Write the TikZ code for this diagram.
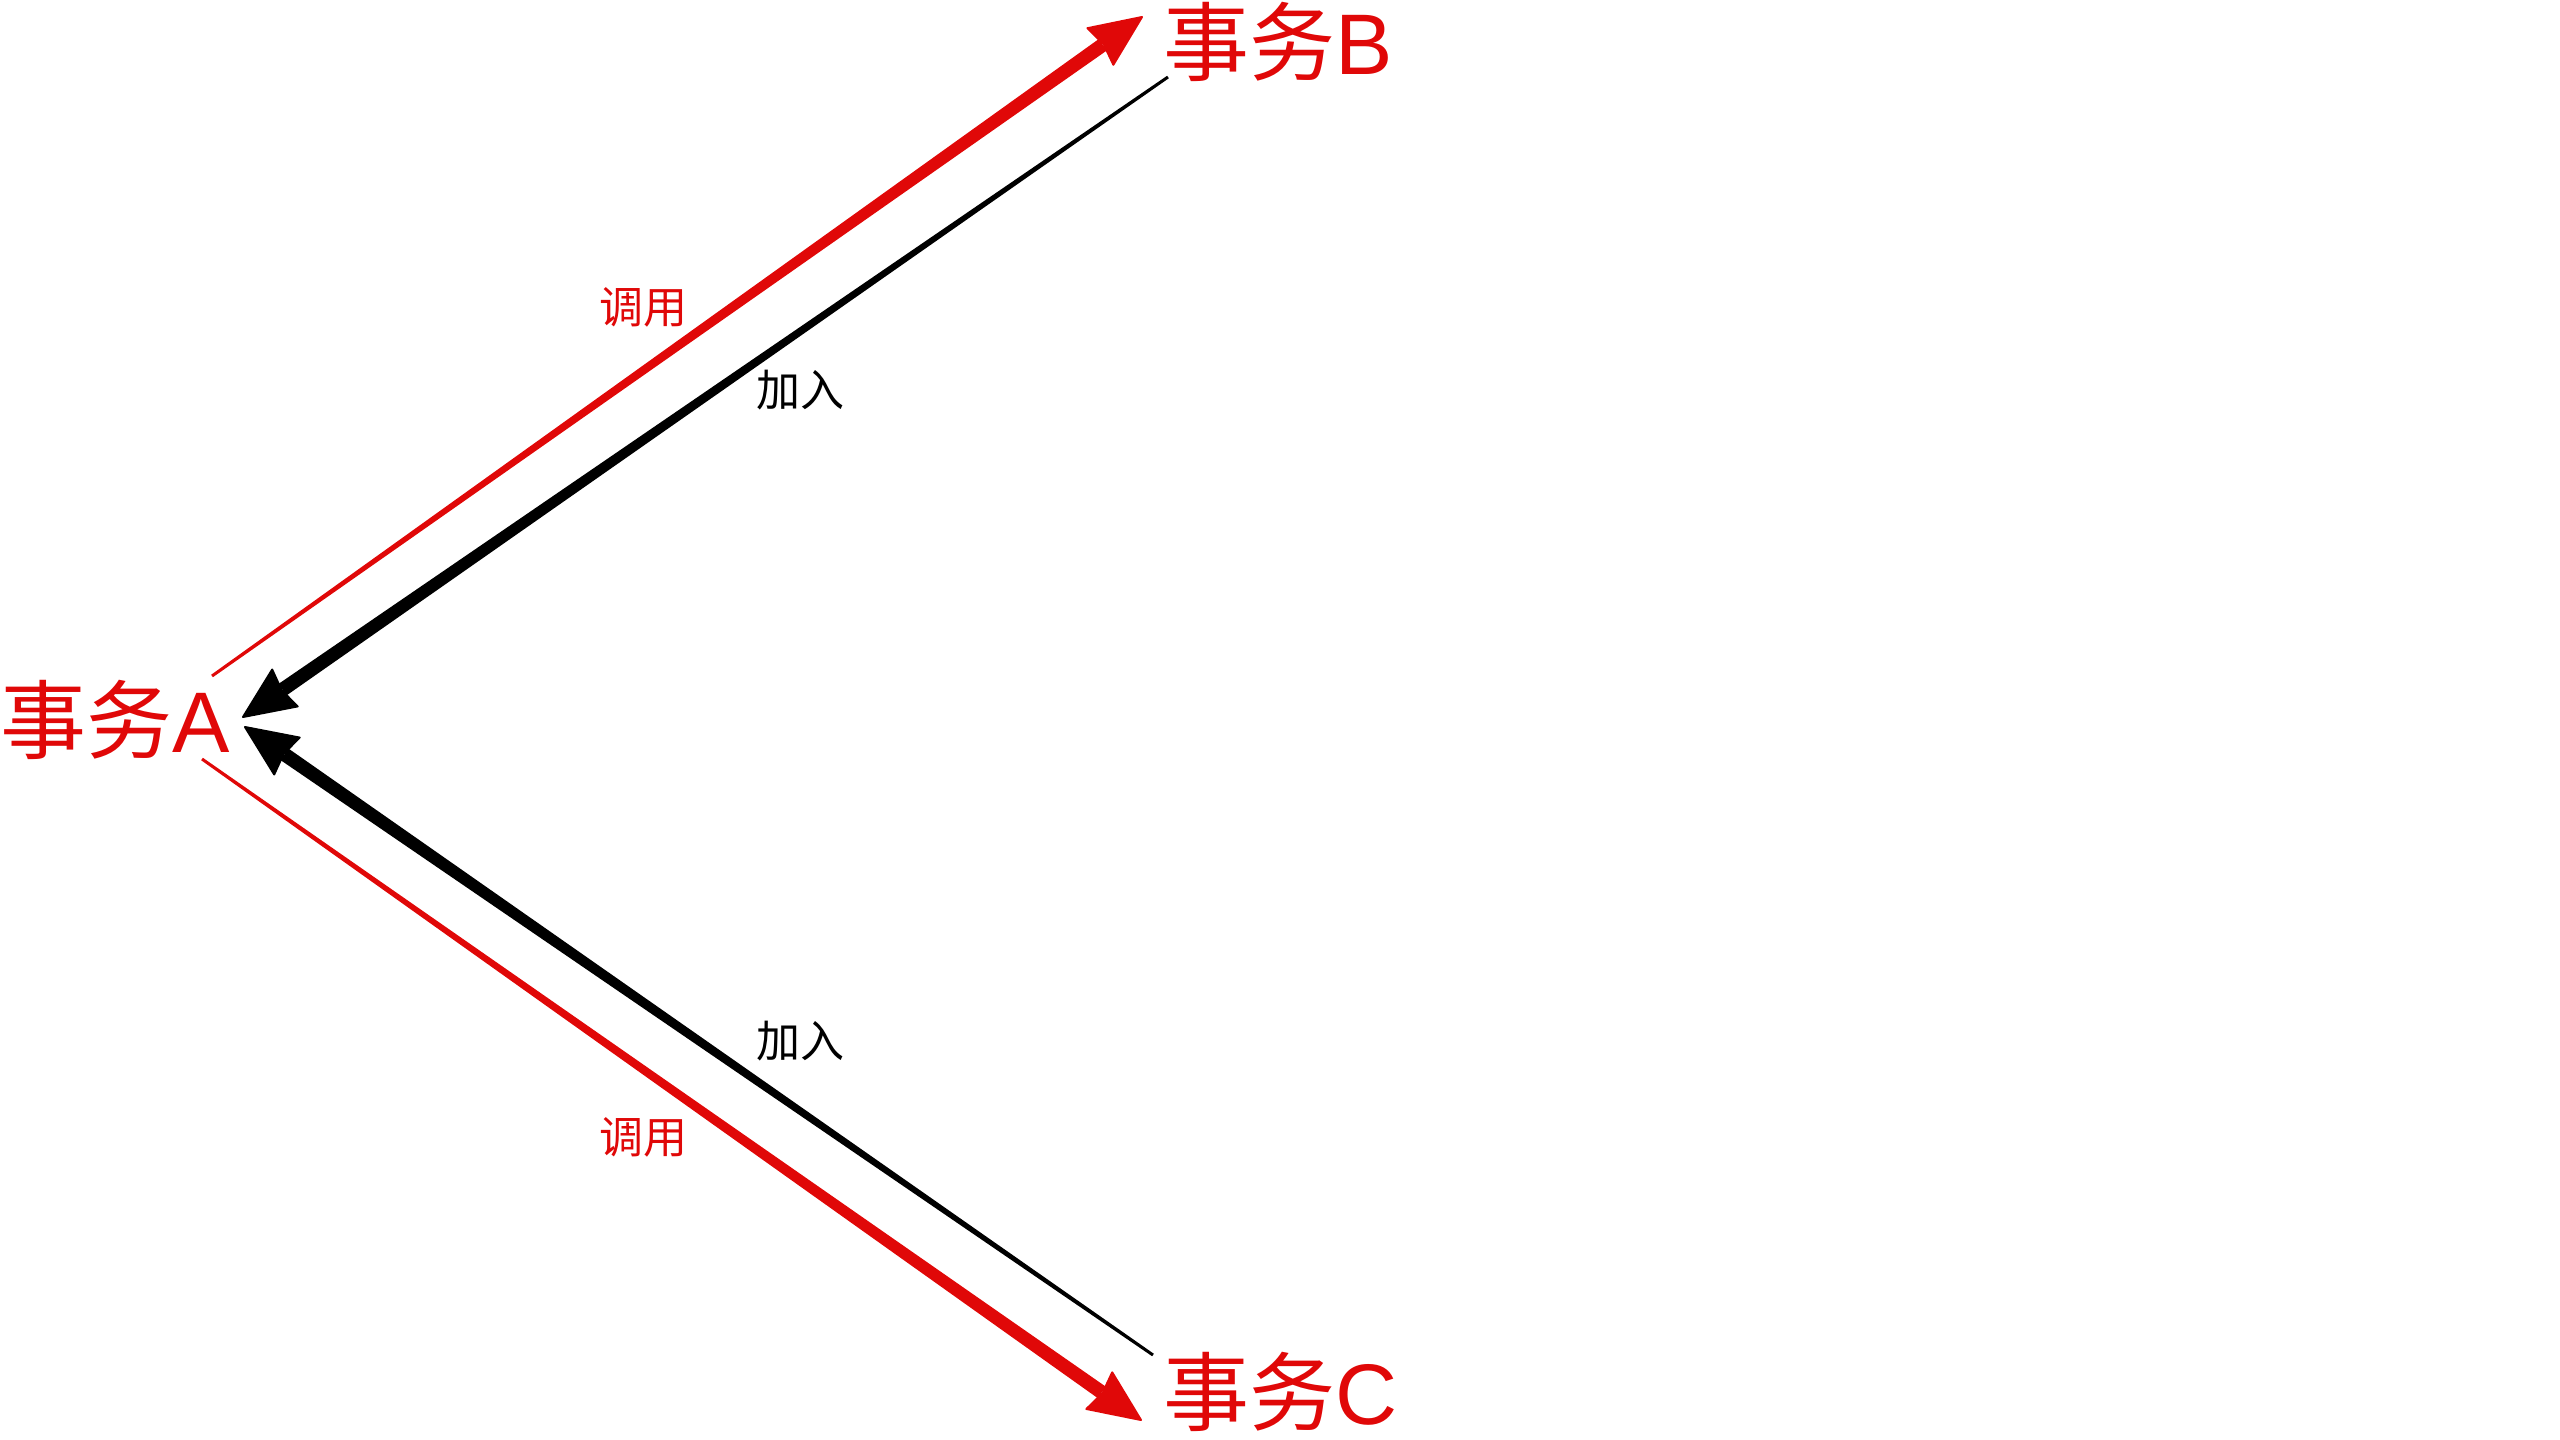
\documentclass[tikz,border=0pt]{standalone}
\usepackage{fontspec}
\setmainfont{Liberation Sans}
\newfontfamily\cjk{Noto Sans CJK SC}
\usetikzlibrary{calc}
\definecolor{swred}{RGB}{224,8,8}
% tapered connector with arrowhead: #1 start, #2 tip, #3 colour
\newcommand\taperarrow[3]{%
  \fill[#3] ($(#1)!0.75pt!90:(#2)$)
    -- ($(#2)!24pt!(#1)!3.5pt!-90:(#1)$)
    -- ($(#2)!24pt!(#1)!3.5pt!90:(#1)$)
    -- ($(#1)!0.75pt!-90:(#2)$) -- cycle;
  \filldraw[#3, line width=1pt, line join=round]
    (#2) -- ($(#2)!25.5pt!(#1)!11.2pt!90:(#2)$)
    -- ($(#2)!23.5pt!(#1)$)
    -- ($(#2)!25.5pt!(#1)!11.2pt!-90:(#2)$) -- cycle;
}
\begin{document}
\begin{tikzpicture}[x=0.5pt,y=-0.5pt,
  big/.style={inner sep=0pt, anchor=base west, text=swred, font=\fontsize{43}{50}\selectfont},
  lbl/.style={inner sep=0pt, font=\cjk\fontsize{22}{26}\selectfont}]
\useasboundingbox (0,0) rectangle (2560,1440);
% nodes
\node[big] (A) at (0,752) {{\cjk 事务}A};
\node[big] (B) at (1163,74) {{\cjk 事务}B};
\node[big] (C) at (1163,1424) {{\cjk 事务}C};
% connector ends
\coordinate (ab0) at (212,676);   \coordinate (ab1) at (1142,17);
\coordinate (ba0) at (1168,77);   \coordinate (ba1) at (243,717);
\coordinate (ac0) at (202,759);   \coordinate (ac1) at (1141,1420);
\coordinate (ca0) at (1153,1355); \coordinate (ca1) at (245,727);
% connectors
\taperarrow{ab0}{ab1}{swred}
\taperarrow{ba0}{ba1}{black}
\taperarrow{ac0}{ac1}{swred}
\taperarrow{ca0}{ca1}{black}
% labels
\node[lbl, text=swred] (l1) at (643,307) {调用};
\node[lbl] (l2) at (800,390) {加入};
\node[lbl] (l3) at (800,1041) {加入};
\node[lbl, text=swred] (l4) at (643,1137) {调用};
\end{tikzpicture}
\end{document}
